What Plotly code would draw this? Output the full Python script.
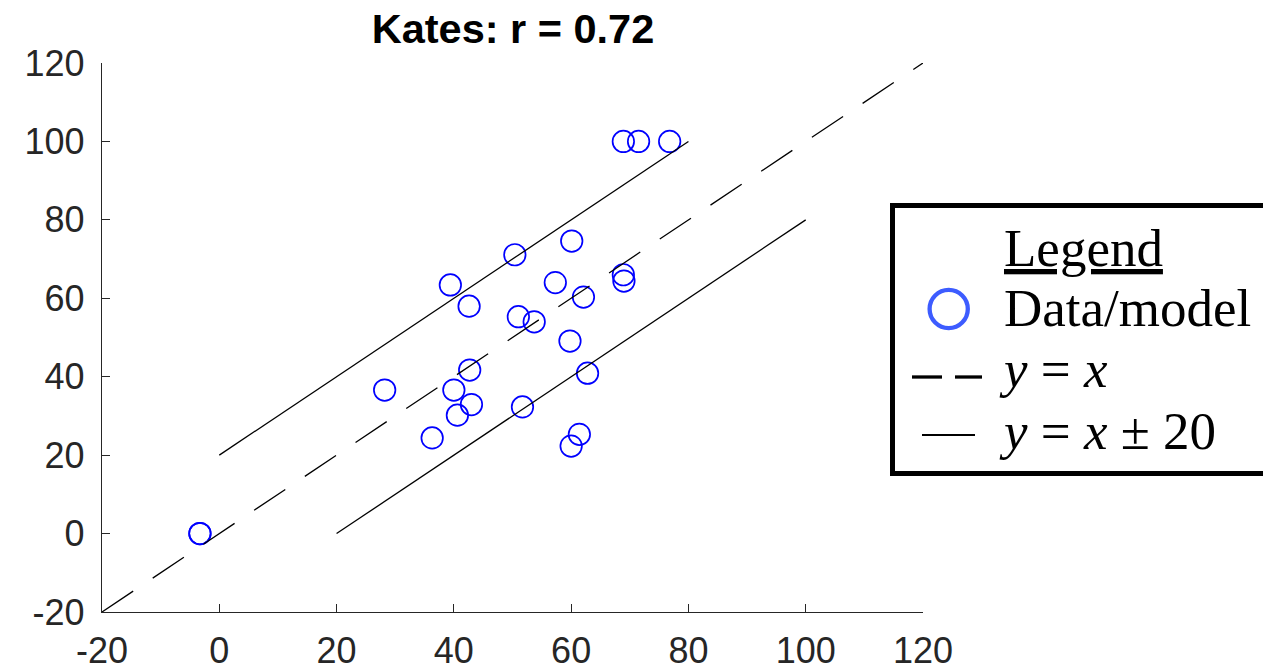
import plotly.graph_objects as go

# ---- data ----
x_data = [-3.3, -3.3, 68.9, 71.5, 76.8, 60.1, 50.4, 39.4, 42.6, 57.3, 68.9, 69.0, 62.1,
          51.0, 53.7, 59.8, 28.2, 42.7, 40.0, 43.0, 40.6, 36.3, 51.7, 62.8, 61.4, 60.0]
y_data = [0.0, 0.0, 100.0, 100.0, 100.0, 74.6, 71.1, 63.4, 58.0, 64.0, 66.0, 64.4, 60.3,
          55.3, 54.0, 49.1, 36.6, 41.7, 36.6, 32.9, 30.2, 24.4, 32.3, 40.9, 25.3, 22.3]
identity_x = [-20, 120]
upper_x = [0, 80]
lower_x = [20, 100]
band = 20
tick_vals = [-20, 0, 20, 40, 60, 80, 100, 120]
title_text = "Kates: r = 0.72"
legend_title = "Legend"
legend_labels = ["Data/model", "<i>y</i> = <i>x</i>", "<i>y</i> = <i>x</i> ± 20"]

# ---- layout geometry (pixels) ----
W, H = 1263, 671
ML, MR, MT, MB = 102, 340, 63, 59
PW = W - ML - MR
PH = H - MT - MB


def px(x):
    return (x - ML) / PW


def py(y):
    return (H - MB - y) / PH


AX = "#262626"
fig = go.Figure()

fig.add_trace(go.Scatter(
    x=x_data, y=y_data, mode="markers",
    marker=dict(symbol="circle-open", size=21.5, color="#0000ff", line=dict(width=1.7)),
    showlegend=False, hoverinfo="x+y"))

fig.add_trace(go.Scatter(
    x=identity_x, y=identity_x, mode="lines",
    line=dict(color="black", width=1.3, dash="37.5px,23.5px"), showlegend=False))
fig.add_trace(go.Scatter(
    x=upper_x, y=[v + band for v in upper_x], mode="lines",
    line=dict(color="black", width=1.3), showlegend=False))
fig.add_trace(go.Scatter(
    x=lower_x, y=[v - band for v in lower_x], mode="lines",
    line=dict(color="black", width=1.3), showlegend=False))

axis_common = dict(
    range=[-20, 120], tickvals=tick_vals, ticktext=[str(v) for v in tick_vals],
    showgrid=False, zeroline=False, showline=True, linecolor=AX, linewidth=1.3,
    ticks="inside", ticklen=8, tickwidth=1.3, tickcolor=AX,
    tickfont=dict(family="Liberation Sans, Arial, sans-serif", size=36, color=AX),
    mirror=False, fixedrange=True, automargin=False,
)

fig.update_layout(
    width=W, height=H,
    margin=dict(l=ML, r=MR, t=MT, b=MB, autoexpand=False),
    paper_bgcolor="white", plot_bgcolor="white",
    xaxis=dict(**axis_common, ticklabelstandoff=7),
    yaxis=dict(**axis_common, ticklabelstandoff=9),
    title=dict(text="<b>" + title_text + "</b>", x=513 / W, xanchor="center", xref="container",
               y=1 - 28.3 / H, yanchor="middle", yref="container",
               font=dict(family="Liberation Sans, Arial, sans-serif", size=41.5, color="black")),
    showlegend=False,
)

# ---- custom legend box ----
shapes = [
    dict(type="rect", xref="paper", yref="paper",
         x0=px(892.5), x1=px(1280), y0=py(473.5), y1=py(205.5),
         line=dict(color="black", width=5), fillcolor="white", layer="above"),
    dict(type="circle", xref="paper", yref="paper",
         x0=px(948.7 - 19.1), x1=px(948.7 + 19.1), y0=py(309 + 19.1), y1=py(309 - 19.1),
         line=dict(color="#3d5cff", width=4.3), layer="above"),
    dict(type="line", xref="paper", yref="paper",
         x0=px(912), x1=px(942), y0=py(377), y1=py(377),
         line=dict(color="black", width=3.3), layer="above"),
    dict(type="line", xref="paper", yref="paper",
         x0=px(955), x1=px(982), y0=py(377), y1=py(377),
         line=dict(color="black", width=3.3), layer="above"),
    dict(type="line", xref="paper", yref="paper",
         x0=px(922), x1=px(975), y0=py(435), y1=py(435),
         line=dict(color="black", width=2), layer="above"),
]
fig.update_layout(shapes=shapes)

SERIF = "Liberation Serif, Times New Roman, serif"
FS = 53
off = 19.5
ann = [
    (1002, 267, "<u>" + legend_title + "</u>"),
    (1002, 327, legend_labels[0]),
    (997, 388, legend_labels[1]),
    (997, 450, legend_labels[2]),
]
annotations = []
for xx, base, txt in ann:
    annotations.append(dict(
        xref="paper", yref="paper", x=px(xx), y=py(base - off),
        xanchor="left", yanchor="middle", text=txt, showarrow=False,
        font=dict(family=SERIF, size=FS, color="black")))
fig.update_layout(annotations=annotations)

fig.write_html("out.html")
